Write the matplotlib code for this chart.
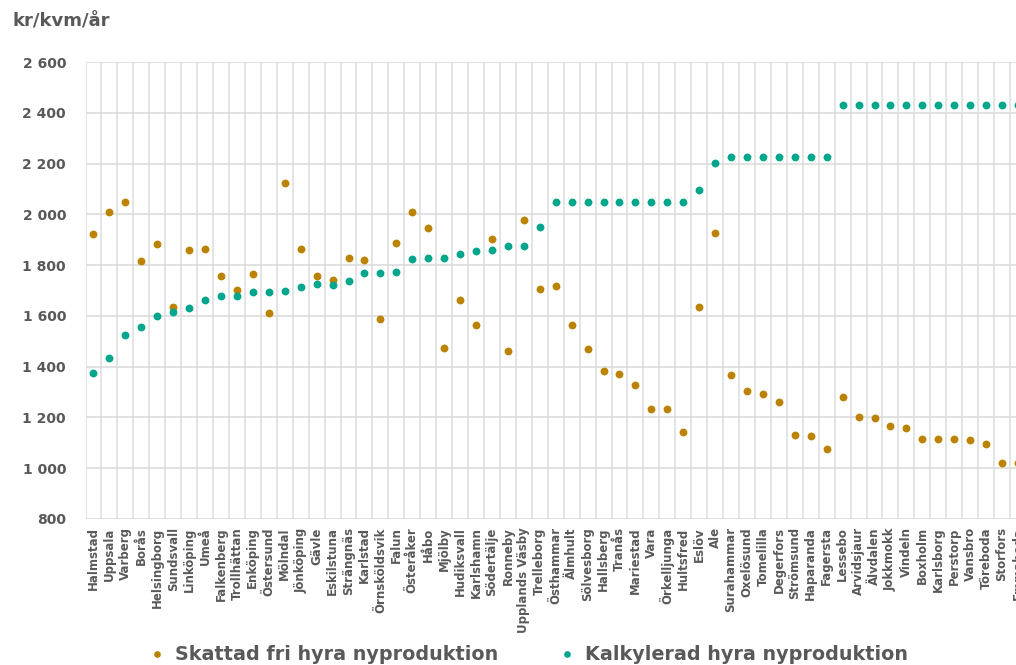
import matplotlib
matplotlib.use("Agg")
import matplotlib.pyplot as plt
from matplotlib.ticker import FixedLocator, FuncFormatter

categories = ["Halmstad", "Uppsala", "Varberg", "Borås", "Helsingborg", "Sundsvall",
              "Linköping", "Umeå", "Falkenberg", "Trollhättan", "Enköping", "Östersund",
              "Mölndal", "Jönköping", "Gävle", "Eskilstuna", "Strängnäs", "Karlstad",
              "Örnsköldsvik", "Falun", "Österåker", "Håbo", "Mjölby", "Hudiksvall",
              "Karlshamn", "Södertälje", "Ronneby", "Upplands Väsby", "Trelleborg",
              "Östhammar", "Älmhult", "Sölvesborg", "Hallsberg", "Tranås", "Mariestad",
              "Vara", "Örkelljunga", "Hultsfred", "Eslöv", "Ale", "Surahammar",
              "Oxelösund", "Tomelilla", "Degerfors", "Strömsund", "Haparanda", "Fagersta",
              "Lessebo", "Arvidsjaur", "Älvdalen", "Jokkmokk", "Vindeln", "Boxholm",
              "Karlsborg", "Perstorp", "Vansbro", "Töreboda", "Storfors", "Emmaboda"]

skattad = [1921, 2010, 2048, 1817, 1883, 1635, 1861, 1865, 1759, 1702, 1765, 1612,
           2124, 1865, 1758, 1741, 1827, 1819, 1587, 1889, 2011, 1947, 1474, 1664,
           1566, 1903, 1463, 1979, 1707, 1719, 1565, 1468, 1384, 1371, 1328, 1232,
           1232, 1143, 1635, 1926, 1366, 1304, 1291, 1262, 1131, 1128, 1076, 1279,
           1202, 1199, 1168, 1158, 1115, 1114, 1114, 1110, 1094, 1019, 1019]

kalkylerad = [1376, 1435, 1526, 1556, 1601, 1617, 1632, 1661, 1677, 1677, 1693, 1693,
              1697, 1714, 1724, 1723, 1739, 1769, 1769, 1774, 1824, 1827, 1827, 1845,
              1857, 1860, 1875, 1877, 1950,
              2050, 2050, 2050, 2050, 2050, 2050, 2050, 2050, 2050,
              2096, 2202,
              2225, 2225, 2225, 2225, 2225, 2225, 2225,
              2430, 2430, 2430, 2430, 2430, 2430, 2430, 2430, 2430, 2430, 2430, 2430]

y_ticks = [800, 1000, 1200, 1400, 1600, 1800, 2000, 2200, 2400, 2600]

BROWN = "#BB8300"
TEAL = "#00A68B"
TXT = "#595959"
GRID = "#DCDCDC"

plt.rcParams['font.family'] = ['DejaVu Sans']

W, H = 1016, 665
fig = plt.figure(figsize=(W / 100, H / 100), dpi=100)
n = len(categories)
step = 15.94
left_px, top_px, bot_px = 85.5, 62, 519
ax = fig.add_axes([left_px / W, 1 - bot_px / H, n * step / W, (bot_px - top_px) / H])

x = list(range(n))
ax.scatter(x, skattad, s=32, color=BROWN, zorder=3, linewidths=0,
           label="Skattad fri hyra nyproduktion")
ax.scatter(x, kalkylerad, s=32, color=TEAL, zorder=4, linewidths=0,
           label="Kalkylerad hyra nyproduktion")

ax.set_xlim(-0.5, n - 0.5)
ax.set_ylim(800, 2600)
ax.set_yticks(y_ticks)
ax.yaxis.set_major_formatter(FuncFormatter(lambda v, p: f"{int(v):,}".replace(",", " ")))
ax.set_xticks(x)
ax.set_xticklabels(categories, rotation=90, fontsize=8.5, fontweight='bold', color=TXT)
ax.xaxis.set_minor_locator(FixedLocator([i - 0.5 for i in range(n + 1)]))
for lab in ax.get_yticklabels():
    lab.set_fontweight('bold')
    lab.set_color(TXT)
    lab.set_fontsize(10)
ax.tick_params(axis='y', length=0, pad=14)
ax.tick_params(axis='x', which='both', length=0, pad=6)
ax.grid(axis='y', which='major', color=GRID, linewidth=1.2, zorder=0)
ax.grid(axis='x', which='minor', color=GRID, linewidth=1.1, zorder=0)
ax.grid(axis='x', which='major', visible=False)
for s in ax.spines.values():
    s.set_visible(False)
ax.set_axisbelow(True)

fig.text(12 / W, 1 - 21 / H, "kr/kvm/år", fontsize=13, fontweight='bold', color=TXT,
         ha='left', va='center')

leg = fig.legend(loc='center left', bbox_to_anchor=(151 / W, 1 - 654 / H), ncol=2,
                 frameon=False, fontsize=13.8, handlelength=0.6, handletextpad=0.65,
                 columnspacing=3.3, borderpad=0, borderaxespad=0, markerscale=0.85)
for t in leg.get_texts():
    t.set_fontweight('bold')
    t.set_color(TXT)

fig.savefig("out.png", dpi=100)
